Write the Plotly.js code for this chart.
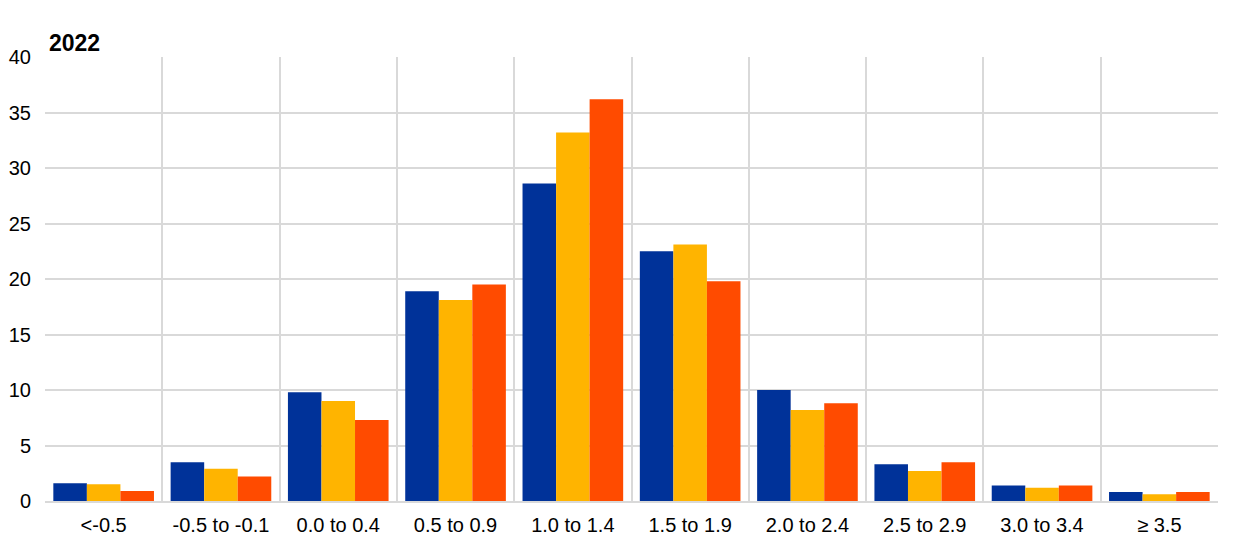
<!DOCTYPE html>
<html>
<head>
<meta charset="utf-8">
<script src="https://cdn.plot.ly/plotly-3.0.1.min.js"></script>
<style>html,body{margin:0;padding:0;background:#fff;}#chart{width:1240px;height:549px;}</style>
</head>
<body>
<div id="chart"></div>
<script>
var categories = ["<-0.5", "-0.5 to -0.1", "0.0 to 0.4", "0.5 to 0.9", "1.0 to 1.4", "1.5 to 1.9", "2.0 to 2.4", "2.5 to 2.9", "3.0 to 3.4", "≥ 3.5"];
var seriesBlue = [1.6, 3.5, 9.8, 18.9, 28.6, 22.5, 10.0, 3.3, 1.4, 0.8];
var seriesYellow = [1.5, 2.9, 9.0, 18.1, 33.2, 23.1, 8.2, 2.7, 1.2, 0.6];
var seriesRed = [0.9, 2.2, 7.3, 19.5, 36.2, 19.8, 8.8, 3.5, 1.4, 0.8];
var yTicks = [0, 5, 10, 15, 20, 25, 30, 35, 40];

function bar(y, color) {
  return {type: "bar", x: categories, y: y, marker: {color: color, line: {width: 0}}, hoverinfo: "y"};
}
var data = [bar(seriesBlue, "#003299"), bar(seriesYellow, "#FFB400"), bar(seriesRed, "#FF4B00")];

var layout = {
  width: 1240, height: 549,
  margin: {l: 45, r: 22, t: 57, b: 48},
  paper_bgcolor: "#ffffff", plot_bgcolor: "#ffffff",
  font: {family: "Arial, Liberation Sans, sans-serif", size: 20, color: "#000000"},
  showlegend: false,
  barmode: "group", bargap: 0.142, bargroupgap: 0,
  title: {text: "<b>2022</b>", x: 49/1240, xanchor: "left", xref: "container", y: 1 - 43/549, yanchor: "middle", yref: "container", font: {size: 23, color: "#000000"}},
  xaxis: {type: "category", tickson: "boundaries", showgrid: true, gridcolor: "#d9d9d9", gridwidth: 2,
          showline: true, linecolor: "#d9d9d9", linewidth: 2, mirror: false, ticks: "", ticklabelstandoff: 5,
          tickfont: {size: 20}, fixedrange: true},
  yaxis: {range: [0, 40], tickvals: yTicks, ticktext: yTicks.map(String), showgrid: true, gridcolor: "#d9d9d9", gridwidth: 2,
          zeroline: false, showline: false, ticks: "", ticklabelstandoff: 13, tickfont: {size: 20}, fixedrange: true}
};
Plotly.newPlot("chart", data, layout, {displayModeBar: false, staticPlot: true});
</script>
</body>
</html>
